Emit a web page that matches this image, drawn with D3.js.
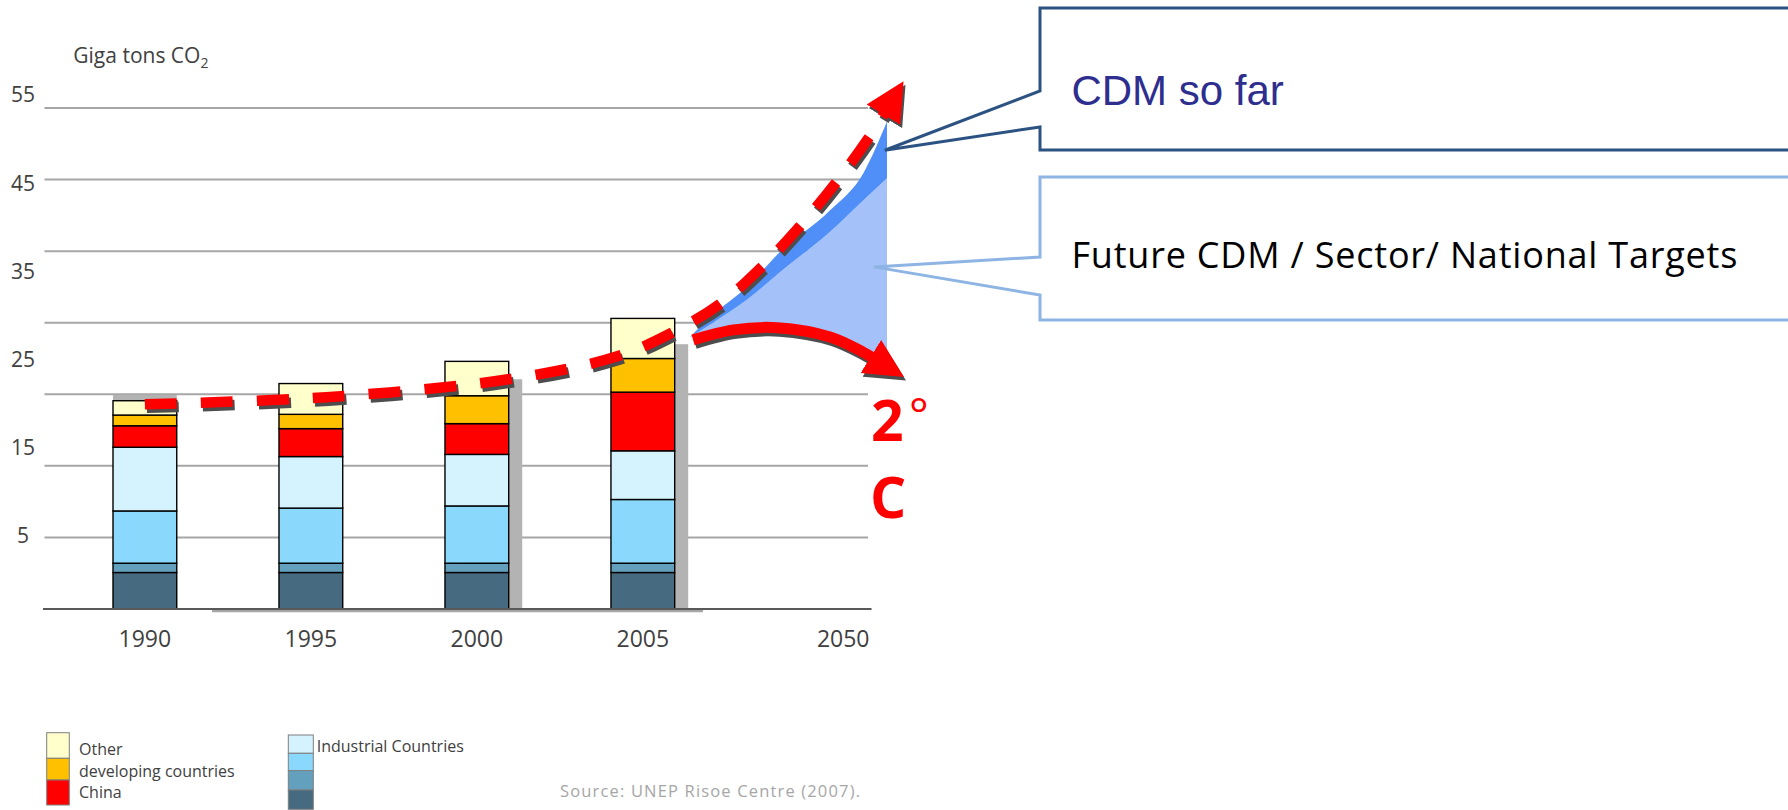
<!DOCTYPE html>
<meta charset="utf-8">
<script src="https://d3js.org/d3.v7.min.js"></script>
<style>
body { margin: 0; background: #fff; }
svg { display: block; font-family: "Open Sans", sans-serif; }
.grid line { stroke: #a6a6a6; stroke-width: 2px; }
.ylab { fill: #404040; font-size: 21px; text-anchor: middle; }
.xlab { fill: #404040; font-size: 23px; text-anchor: middle; }
.seg { stroke: #000; stroke-width: 1.4px; }
.legend text { fill: #404040; font-size: 16px; }
.legend rect { stroke: #7f7f7f; stroke-width: 1px; }
</style>
<div id="plot"></div>
<script>
// bars, Gt CO2 (in gridline units)
var years = ["1990", "1995", "2000", "2005"];
var seriesNames = ["ind4", "ind3", "ind2", "ind1", "china", "developing", "other"];
var seriesColors = ["#466b80", "#62a0bd", "#8ad8fc", "#d4f3fe", "#ff0000", "#ffc000", "#ffffcc"];
var ind4 = [5.1, 5.1, 5.1, 5.1];
var ind3 = [1.3, 1.3, 1.3, 1.3];
var ind2 = [7.3, 7.7, 8.0, 8.9];
var ind1 = [8.9, 7.2, 7.2, 6.8];
var china = [3.0, 3.9, 4.3, 8.2];
var developing = [1.5, 2.0, 3.9, 4.7];
var other = [2.0, 4.3, 4.8, 5.6];
var shadowTop = [29.9, null, 32.1, 37.0];

var yTickLabels = [55, 45, 35, 25, 15, 5];
var lastYear = "2050";

// legend
var legendLeft = ["Other", "developing countries", "China"];
var legendRight = ["Industrial Countries", "", "", ""];

// business as usual, dashed line
var bauYears = [1990, 1995, 2000, 2003, 2004.5, 2012, 2021.4, 2030, 2038.5, 2046, 2049.3];
var bauValues = [28.6, 29.6, 32.1, 35.3, 38.6, 42.7, 47.8, 53.4, 59.7, 66.0, 69.2];

// 2 degree path
var twoYears = [2005.7, 2015, 2025, 2037, 2044.5, 2046.5];
var twoValues = [37.6, 39.0, 39.3, 38.0, 35.9, 35.2];

// projection wedge
var projYears = [2005, 2010, 2018, 2025.6, 2037, 2044.6, 2050];
var cdmTop = [38.0, 41.0, 45.0, 49.9, 55.7, 60.9, 68.1];
var cdmBottom = [38.0, 39.9, 43.2, 47.1, 52.7, 57.1, 60.2];
var futureBottom = [38.0, 38.6, 39.1, 39.2, 38.0, 35.7, 34.0];

var W = 1788, H = 810;
var left = 44.5, right = 868;

var y = d3.scaleLinear().domain([0, 70]).range([609, 108]);
var x = d3.scaleBand().domain(years).range([113, 674.7]).paddingInner(0.616);
var bw = x.bandwidth();
// time axis for the lines: bars part, then squeezed 2005-2050
var t = d3.scaleLinear()
	.domain([1990, 2005, 2050])
	.range([x("1990") + bw / 2, x("2005") + bw + 15.3, 887]);
// the slide's tick labels don't sit on the gridlines
var yLabel = d3.scaleLinear().domain([5, 55]).range([y(10.3), y(71.8)]);

var svg = d3.select("#plot").append("svg")
	.attr("width", W)
	.attr("height", H);

var defs = svg.append("defs");
function marker(id, color) {
	defs.append("marker")
		.attr("id", id)
		.attr("markerUnits", "userSpaceOnUse")
		.attr("viewBox", "0 -20 40 40")
		.attr("refX", 1).attr("refY", 0)
		.attr("markerWidth", 40).attr("markerHeight", 40)
		.attr("orient", "auto")
	  .append("path")
		.attr("d", "M0,-19.5L39,0L0,19.5Z")
		.attr("fill", color);
}
marker("arrRed", "#ff0000");
marker("arrShadow", "#4d4d4d");

// gridlines
svg.append("g").attr("class", "grid")
	.selectAll("line")
	.data(d3.range(10, 71, 10))
	.enter().append("line")
		.attr("x1", left).attr("x2", right)
		.attr("y1", function(d) { return y(d); })
		.attr("y2", function(d) { return y(d); });

svg.append("g").selectAll("text")
	.data(yTickLabels)
	.enter().append("text")
		.attr("class", "ylab")
		.attr("x", 23)
		.attr("y", function(d) { return yLabel(d); })
		.attr("dy", "0.35em")
		.text(function(d) { return d; });

var title = svg.append("text")
	.attr("x", 73.3).attr("y", 63.3)
	.attr("fill", "#404040")
	.style("font-size", "21px")
	.text("Giga tons CO");
title.append("tspan")
	.attr("dy", 5)
	.style("font-size", "14px")
	.text("2");

// bar shadows
svg.append("g").selectAll("rect")
	.data(years.filter(function(d, i) { return shadowTop[i] != null; }))
	.enter().append("rect")
		.attr("x", function(d) { return x(d) + (d === "1990" ? 0 : 13.5); })
		.attr("width", bw)
		.attr("y", function(d) { return y(shadowTop[years.indexOf(d)]); })
		.attr("height", function(d) { return y(0) - y(shadowTop[years.indexOf(d)]); })
		.attr("fill", "#b3b3b3");

// stacked bars
var rows = years.map(function(yr, i) {
	return { year: yr, ind4: ind4[i], ind3: ind3[i], ind2: ind2[i], ind1: ind1[i],
		china: china[i], developing: developing[i], other: other[i] };
});
var stacked = d3.stack().keys(seriesNames)(rows);

svg.append("g").selectAll("g")
	.data(stacked)
	.enter().append("g")
		.attr("fill", function(d, i) { return seriesColors[i]; })
	.selectAll("rect")
	.data(function(d) { return d; })
	.enter().append("rect")
		.attr("class", "seg")
		.attr("x", function(d) { return x(d.data.year); })
		.attr("width", bw)
		.attr("y", function(d) { return y(d[1]); })
		.attr("height", function(d) { return y(d[0]) - y(d[1]); });

// baseline
svg.append("line")
	.attr("x1", 212).attr("x2", 703)
	.attr("y1", y(0) + 2).attr("y2", y(0) + 2)
	.attr("stroke", "#a6a6a6").attr("stroke-width", 2.5);
svg.append("line")
	.attr("x1", 43).attr("x2", 871.5)
	.attr("y1", y(0)).attr("y2", y(0))
	.attr("stroke", "#595959").attr("stroke-width", 1.8);

// x labels
svg.append("g").selectAll("text")
	.data(years)
	.enter().append("text")
		.attr("class", "xlab")
		.attr("x", function(d) { return x(d) + bw / 2; })
		.attr("y", 646.7)
		.text(function(d) { return d; });
svg.append("text")
	.attr("class", "xlab")
	.attr("x", right + 1.5).attr("y", 646.7)
	.style("text-anchor", "end")
	.text(lastYear);

// projection wedge
var wedge = function(lo, hi) {
	return d3.area()
		.x(function(d, i) { return t(projYears[i]); })
		.y0(function(d, i) { return y(lo[i]); })
		.y1(function(d, i) { return y(hi[i]); })
		.curve(d3.curveMonotoneX)(projYears);
};
svg.append("path").attr("d", wedge(futureBottom, cdmBottom)).attr("fill", "#a4c2f9");
svg.append("path").attr("d", wedge(cdmBottom, cdmTop)).attr("fill", "#4f8ff7");

// lines
var line = d3.line()
	.x(function(d) { return t(d[0]); })
	.y(function(d) { return y(d[1]); })
	.curve(d3.curveCatmullRom.alpha(0.5));
var bau = bauYears.map(function(d, i) { return [d, bauValues[i]]; });
var two = twoYears.map(function(d, i) { return [d, twoValues[i]]; });

function drawLine(data, width, dash) {
	svg.append("path")
		.attr("d", line(data))
		.attr("transform", "translate(2,3.5)")
		.attr("fill", "none")
		.attr("stroke", "#4d4d4d")
		.attr("stroke-width", width)
		.attr("stroke-dasharray", dash)
		.attr("marker-end", "url(#arrShadow)");
	svg.append("path")
		.attr("d", line(data))
		.attr("fill", "none")
		.attr("stroke", "#ff0000")
		.attr("stroke-width", width)
		.attr("stroke-dasharray", dash)
		.attr("marker-end", "url(#arrRed)");
}
drawLine(bau, 10.5, "32,24");
drawLine(two, 11, null);

// 2 degrees
svg.append("text").attr("x", 871).attr("y", 440.7)
	.attr("fill", "#ff0000").style("font-size", "57px").style("font-weight", 700)
	.text("2");
svg.append("text").attr("x", 909).attr("y", 431)
	.attr("fill", "#ff0000").style("font-size", "46px")
	.text("°");
svg.append("text").attr("x", 870).attr("y", 518.3)
	.attr("fill", "#ff0000").style("font-size", "57px").style("font-weight", 700)
	.text("C");

// callouts
function callout(top, bottom, n0, n1, tip, color) {
	var p = d3.path();
	p.moveTo(W + 10, top);
	p.lineTo(1040, top);
	p.lineTo(1040, n0);
	p.lineTo(tip[0], tip[1]);
	p.lineTo(1040, n1);
	p.lineTo(1040, bottom);
	p.lineTo(W + 10, bottom);
	svg.append("path")
		.attr("d", p.toString())
		.attr("fill", "#fff")
		.attr("stroke", color)
		.attr("stroke-width", 3);
}
callout(8, 150, 91, 127, [t(2049.5), y(64.1)], "#2c5282");
callout(177, 320, 257, 295, [t(2047), y(47.8)], "#8eb4e3");

svg.append("text")
	.attr("x", 1071.4).attr("y", 104.5)
	.attr("fill", "#2e2e8f")
	.style("font-family", "'Liberation Sans', Arial, sans-serif")
	.style("font-size", "42px")
	.text("CDM so far");
svg.append("text")
	.attr("x", 1071.4).attr("y", 268.3)
	.attr("fill", "#000")
	.style("font-size", "36px")
	.attr("textLength", 666)
	.attr("lengthAdjust", "spacing")
	.text("Future CDM / Sector/ National Targets");

// legend
var lg = svg.append("g").attr("class", "legend");
var leftRows = [[732.7, 758.3], [758.3, 780], [780, 805]];
var leftBase = [755, 776.7, 798.3];
legendLeft.forEach(function(label, i) {
	lg.append("rect")
		.attr("x", 46.7).attr("y", leftRows[i][0])
		.attr("width", 22.6).attr("height", leftRows[i][1] - leftRows[i][0])
		.attr("fill", seriesColors[6 - i]);
	lg.append("text").attr("x", 79).attr("y", leftBase[i]).text(label);
});
var rightRows = [[735, 753.3], [753.3, 770.7], [770.7, 790], [790, 809.3]];
legendRight.forEach(function(label, i) {
	lg.append("rect")
		.attr("x", 288.3).attr("y", rightRows[i][0])
		.attr("width", 25).attr("height", rightRows[i][1] - rightRows[i][0])
		.attr("fill", seriesColors[3 - i]);
	if (label) lg.append("text").attr("x", 316.7).attr("y", 751.7).text(label);
});

svg.append("text")
	.attr("x", 560).attr("y", 797)
	.attr("fill", "#a6a6a6")
	.style("font-size", "16.5px")
	.attr("textLength", 300)
	.attr("lengthAdjust", "spacing")
	.text("Source: UNEP Risoe Centre (2007).");
</script>
